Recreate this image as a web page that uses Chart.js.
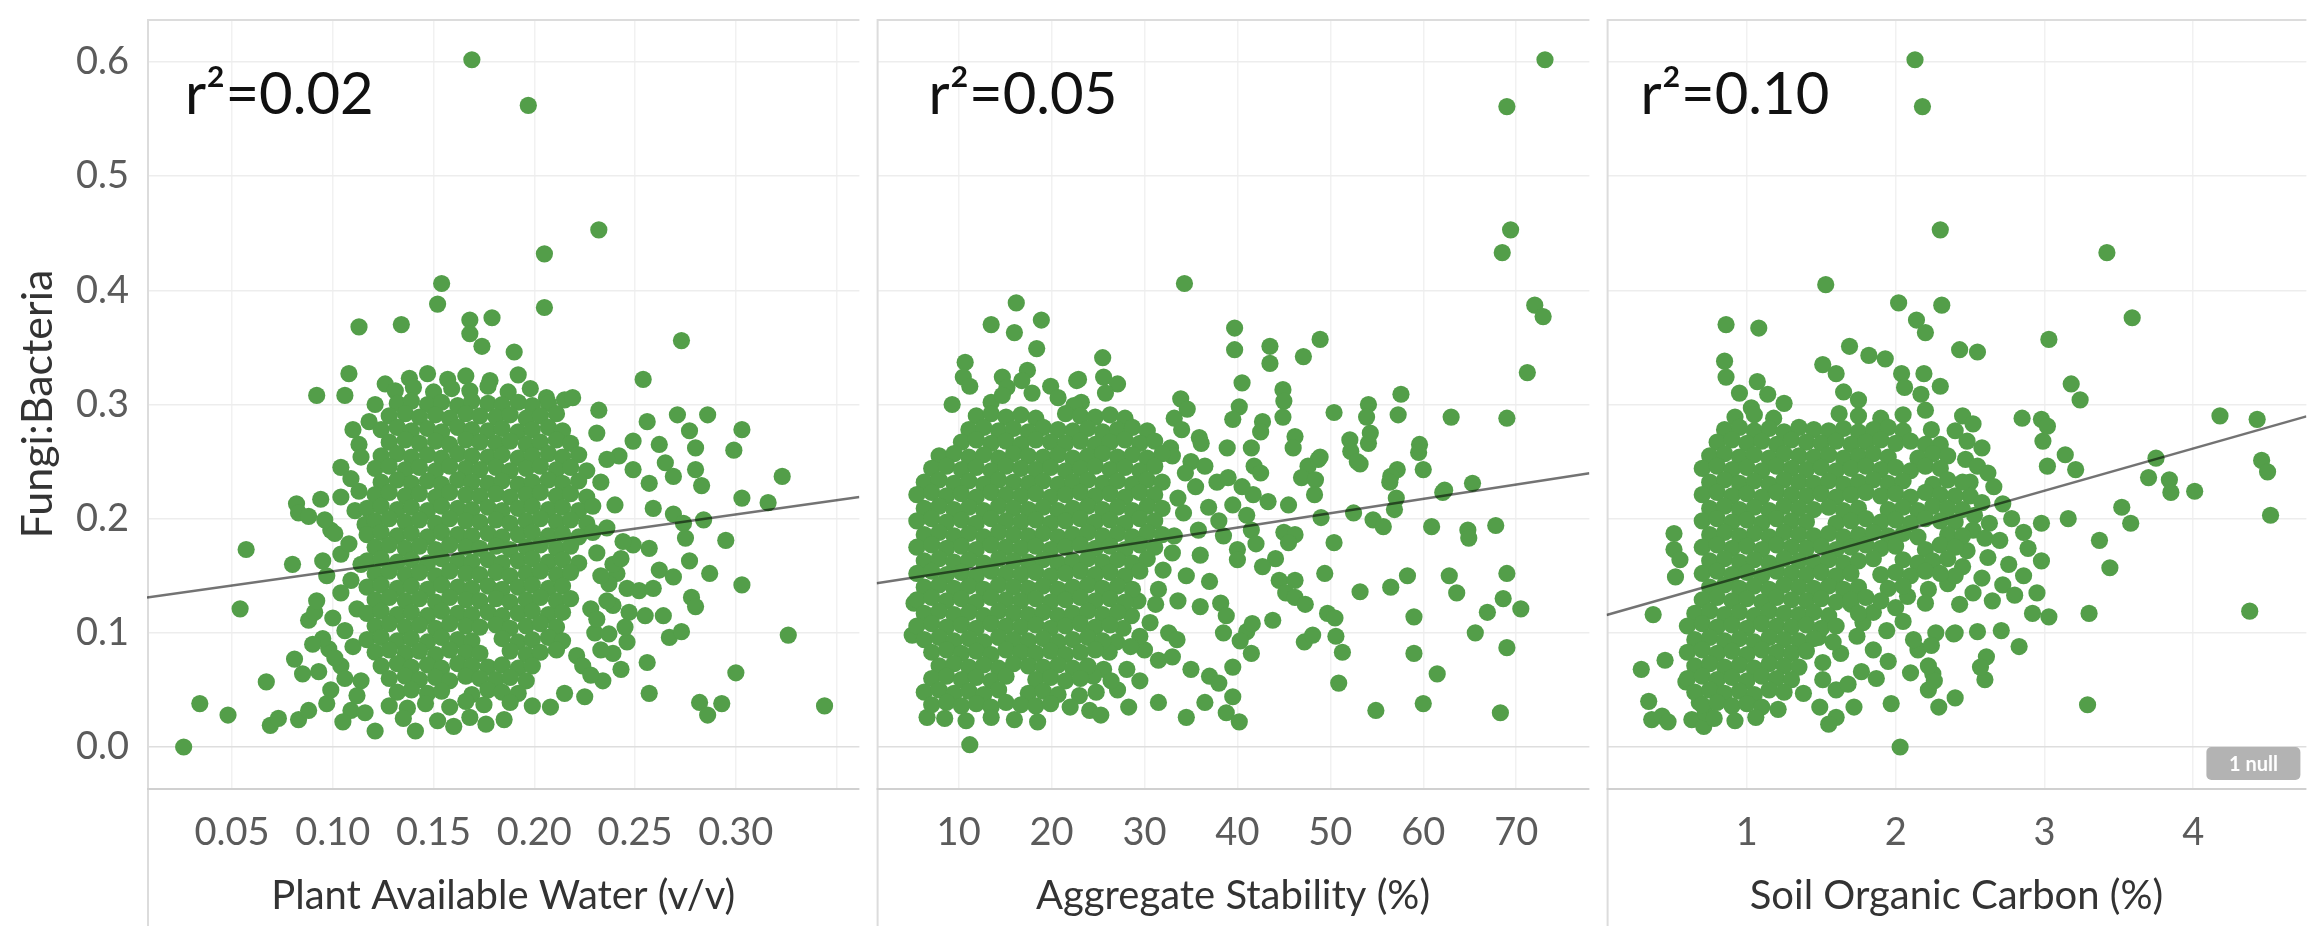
<!DOCTYPE html>
<html>
<head>
<meta charset="utf-8">
<title>Fungi:Bacteria vs soil properties</title>
<script src="https://cdn.jsdelivr.net/npm/chart.js@4.4.1/dist/chart.umd.min.js"></script>
<style>
  html, body { margin: 0; padding: 0; background: #fff; }
  #wrap { position: relative; width: 2315px; height: 926px; overflow: hidden; }
  canvas { position: absolute; top: 0; }
</style>
</head>
<body>
<div id="wrap">
  <canvas id="water" width="868" height="926" style="left:0"></canvas>
  <canvas id="stability" width="730" height="926" style="left:868px"></canvas>
  <canvas id="carbon" width="717" height="926" style="left:1598px"></canvas>
</div>
<script>
// ---- data: [x, Fungi:Bacteria] ----

const yTicks = [0, 0.1, 0.2, 0.3, 0.4, 0.5, 0.6];
const yLabels = ['0.0', '0.1', '0.2', '0.3', '0.4', '0.5', '0.6'];

const waterTicks = [0.05, 0.10, 0.15, 0.20, 0.25, 0.30, 0.35];
const waterLabels = ['0.05', '0.10', '0.15', '0.20', '0.25', '0.30', ''];
const stabilityTicks = [10, 20, 30, 40, 50, 60, 70];
const stabilityLabels = ['10', '20', '30', '40', '50', '60', '70'];
const carbonTicks = [1, 2, 3, 4];
const carbonLabels = ['1', '2', '3', '4'];

const axisTitles = ['Plant Available Water (v/v)', 'Aggregate Stability (%)', 'Soil Organic Carbon (%)'];
const rSquared = ['0.02', '0.05', '0.10'];

// trend line ends, at the edges of each pane
const waterTrend = [[0.0078, 0.131], [0.3613, 0.219]];
const stabilityTrend = [[1.17, 0.1434], [77.88, 0.2397]];
const carbonTrend = [[0.057, 0.1156], [4.761, 0.2896]];

const waterPoints = [
  // high values
  [0.169,0.602],[0.197,0.562],[0.232,0.453],[0.205,0.432],[0.154,0.406],[0.152,0.388],[0.205,0.385],[0.179,0.376],
  [0.168,0.374],[0.134,0.370],[0.113,0.368],[0.168,0.362],[0.174,0.351],[0.190,0.346],[0.273,0.356],[0.108,0.327],
  [0.254,0.322],[0.092,0.308],[0.106,0.308],
  // right side
  [0.206,0.306],[0.215,0.304],[0.219,0.306],[0.232,0.295],[0.256,0.285],[0.271,0.291],[0.286,0.291],[0.303,0.278],
  [0.299,0.260],[0.249,0.268],[0.242,0.255],[0.262,0.265],[0.265,0.249],[0.269,0.237],[0.277,0.277],[0.280,0.262],
  [0.280,0.243],[0.283,0.229],[0.323,0.237],[0.303,0.218],[0.316,0.214],[0.249,0.243],[0.257,0.231],[0.259,0.209],
  [0.269,0.204],[0.274,0.196],[0.284,0.199],[0.295,0.181],[0.275,0.183],[0.277,0.163],[0.287,0.152],[0.303,0.142],
  [0.262,0.155],[0.269,0.149],[0.278,0.131],[0.280,0.123],[0.249,0.177],[0.257,0.174],[0.241,0.152],[0.237,0.143],
  [0.246,0.139],[0.252,0.137],[0.259,0.139],[0.228,0.121],[0.239,0.124],[0.247,0.118],[0.255,0.115],[0.264,0.115],
  [0.230,0.100],[0.237,0.099],[0.246,0.092],[0.267,0.096],[0.273,0.101],[0.221,0.080],[0.224,0.071],[0.239,0.082],
  [0.256,0.074],[0.300,0.065],[0.326,0.098],[0.234,0.058],[0.225,0.044],[0.215,0.047],[0.208,0.035],[0.257,0.047],
  [0.282,0.039],[0.286,0.028],[0.293,0.038],[0.344,0.036],
  [0.233,0.232],[0.240,0.212],[0.236,0.192],[0.244,0.180],[0.231,0.170],[0.239,0.160],[0.233,0.150],[0.243,0.165],
  [0.236,0.128],[0.231,0.112],[0.245,0.105],[0.233,0.085],[0.228,0.063],[0.243,0.068],[0.236,0.252],[0.231,0.275],
  // left side
  [0.026,0.000],[0.034,0.038],[0.048,0.028],[0.054,0.121],[0.057,0.173],[0.067,0.057],[0.069,0.019],[0.073,0.025],
  [0.083,0.024],[0.088,0.032],[0.080,0.160],[0.082,0.213],[0.094,0.217],[0.109,0.032],[0.121,0.014],[0.141,0.014],
  [0.113,0.265],[0.114,0.254],[0.104,0.245],[0.099,0.190],[0.104,0.169],[0.109,0.146],[0.112,0.121],[0.106,0.102],
  [0.088,0.111],[0.083,0.205],[0.088,0.202],[0.096,0.199],[0.101,0.187],[0.104,0.219],[0.113,0.224],[0.091,0.118],
  [0.098,0.086],[0.081,0.077],[0.085,0.064],[0.104,0.071],[0.114,0.058],[0.095,0.095],[0.101,0.078],[0.093,0.066],
  [0.099,0.050],[0.106,0.060],[0.112,0.045],[0.104,0.135],[0.097,0.150],[0.092,0.128],[0.110,0.088],[0.100,0.113],
  [0.108,0.178],[0.095,0.163],[0.090,0.090],[0.097,0.038],[0.105,0.022],[0.116,0.030],[0.118,0.285],[0.110,0.278],
  [0.121,0.300],[0.126,0.318],[0.116,0.195],[0.111,0.207],[0.114,0.160],[0.109,0.235],
  // main cloud
  [0.138,0.323],[0.147,0.327],[0.157,0.322],[0.166,0.325],[0.178,0.321],[0.192,0.326],
  [0.131,0.312],[0.140,0.315],[0.150,0.311],[0.159,0.314],[0.168,0.312],[0.177,0.316],[0.187,0.311],[0.198,0.314],
  [0.132,0.301],[0.139,0.303],[0.147,0.300],[0.154,0.302],[0.162,0.299],[0.169,0.303],[0.177,0.301],[0.184,0.300],[0.192,0.302],[0.199,0.299],[0.207,0.301],
  [0.128,0.290],[0.136,0.292],[0.143,0.289],[0.151,0.291],[0.158,0.288],[0.166,0.292],[0.173,0.290],[0.181,0.289],[0.188,0.291],[0.196,0.288],[0.203,0.290],[0.211,0.292],
  [0.124,0.278],[0.132,0.280],[0.139,0.277],[0.147,0.279],[0.154,0.276],[0.162,0.280],[0.169,0.278],[0.177,0.277],[0.184,0.279],[0.192,0.276],[0.199,0.278],[0.207,0.280],[0.214,0.277],
  [0.128,0.267],[0.136,0.269],[0.143,0.266],[0.151,0.268],[0.158,0.265],[0.166,0.269],[0.173,0.267],[0.181,0.266],[0.188,0.268],[0.196,0.265],[0.203,0.267],[0.211,0.269],[0.218,0.266],
  [0.124,0.255],[0.132,0.257],[0.139,0.254],[0.147,0.256],[0.154,0.253],[0.162,0.257],[0.169,0.255],[0.177,0.254],[0.184,0.256],[0.192,0.253],[0.199,0.255],[0.207,0.257],[0.214,0.254],[0.222,0.256],
  [0.121,0.244],[0.128,0.246],[0.136,0.243],[0.143,0.245],[0.151,0.242],[0.158,0.246],[0.166,0.244],[0.173,0.243],[0.181,0.245],[0.188,0.242],[0.196,0.244],[0.203,0.246],[0.211,0.243],[0.218,0.245],[0.226,0.242],
  [0.124,0.232],[0.132,0.234],[0.139,0.231],[0.147,0.233],[0.154,0.230],[0.162,0.234],[0.169,0.232],[0.177,0.231],[0.184,0.233],[0.192,0.230],[0.199,0.232],[0.207,0.234],[0.214,0.231],[0.222,0.233],
  [0.121,0.221],[0.128,0.223],[0.136,0.220],[0.143,0.222],[0.151,0.219],[0.158,0.223],[0.166,0.221],[0.173,0.220],[0.181,0.222],[0.188,0.219],[0.196,0.221],[0.203,0.223],[0.211,0.220],[0.218,0.222],[0.226,0.219],
  [0.117,0.209],[0.124,0.211],[0.132,0.208],[0.139,0.210],[0.147,0.207],[0.154,0.211],[0.162,0.209],[0.169,0.208],[0.177,0.210],[0.184,0.207],[0.192,0.209],[0.199,0.211],[0.207,0.208],[0.214,0.210],[0.222,0.207],[0.229,0.211],
  [0.121,0.198],[0.128,0.200],[0.136,0.197],[0.143,0.199],[0.151,0.196],[0.158,0.200],[0.166,0.198],[0.173,0.197],[0.181,0.199],[0.188,0.196],[0.196,0.198],[0.203,0.200],[0.211,0.197],[0.218,0.199],[0.226,0.196],
  [0.117,0.186],[0.124,0.188],[0.132,0.185],[0.139,0.187],[0.147,0.184],[0.154,0.188],[0.162,0.186],[0.169,0.185],[0.177,0.187],[0.184,0.184],[0.192,0.186],[0.199,0.188],[0.207,0.185],[0.214,0.187],[0.222,0.184],[0.229,0.188],
  [0.121,0.175],[0.128,0.177],[0.136,0.174],[0.143,0.176],[0.151,0.173],[0.158,0.177],[0.166,0.175],[0.173,0.174],[0.181,0.176],[0.188,0.173],[0.196,0.175],[0.203,0.177],[0.211,0.174],[0.218,0.176],
  [0.117,0.163],[0.124,0.165],[0.132,0.162],[0.139,0.164],[0.147,0.161],[0.154,0.165],[0.162,0.163],[0.169,0.162],[0.177,0.164],[0.184,0.161],[0.192,0.163],[0.199,0.165],[0.207,0.162],[0.214,0.164],[0.222,0.161],
  [0.121,0.152],[0.128,0.154],[0.136,0.151],[0.143,0.153],[0.151,0.150],[0.158,0.154],[0.166,0.152],[0.173,0.151],[0.181,0.153],[0.188,0.150],[0.196,0.152],[0.203,0.154],[0.211,0.151],[0.218,0.153],
  [0.117,0.140],[0.124,0.142],[0.132,0.139],[0.139,0.141],[0.147,0.138],[0.154,0.142],[0.162,0.140],[0.169,0.139],[0.177,0.141],[0.184,0.138],[0.192,0.140],[0.199,0.142],[0.207,0.139],[0.214,0.141],
  [0.121,0.129],[0.128,0.131],[0.136,0.128],[0.143,0.130],[0.151,0.127],[0.158,0.131],[0.166,0.129],[0.173,0.128],[0.181,0.130],[0.188,0.127],[0.196,0.129],[0.203,0.131],[0.211,0.128],[0.218,0.130],
  [0.117,0.117],[0.124,0.119],[0.132,0.116],[0.139,0.118],[0.147,0.115],[0.154,0.119],[0.162,0.117],[0.169,0.116],[0.177,0.118],[0.184,0.115],[0.192,0.117],[0.199,0.119],[0.207,0.116],[0.214,0.118],
  [0.121,0.106],[0.128,0.108],[0.136,0.105],[0.143,0.107],[0.151,0.104],[0.158,0.108],[0.166,0.106],[0.173,0.105],[0.181,0.107],[0.188,0.104],[0.196,0.106],[0.203,0.108],[0.211,0.105],
  [0.117,0.094],[0.124,0.096],[0.132,0.093],[0.139,0.095],[0.147,0.092],[0.154,0.096],[0.162,0.094],[0.169,0.093],[0.184,0.095],[0.192,0.092],[0.199,0.094],[0.207,0.096],[0.214,0.093],
  [0.121,0.083],[0.128,0.085],[0.136,0.082],[0.143,0.084],[0.151,0.081],[0.158,0.085],[0.166,0.083],[0.173,0.082],[0.188,0.084],[0.196,0.081],[0.203,0.083],[0.211,0.085],
  [0.124,0.071],[0.132,0.073],[0.139,0.070],[0.147,0.072],[0.154,0.069],[0.162,0.073],[0.169,0.071],[0.177,0.070],[0.184,0.072],[0.192,0.069],[0.199,0.071],
  [0.128,0.060],[0.136,0.062],[0.143,0.059],[0.151,0.061],[0.158,0.058],[0.166,0.062],[0.173,0.060],[0.181,0.059],[0.188,0.061],[0.196,0.058],
  [0.132,0.048],[0.139,0.050],[0.147,0.047],[0.154,0.049],[0.169,0.046],[0.177,0.050],[0.184,0.048],[0.192,0.047],
  [0.128,0.036],[0.137,0.034],[0.146,0.038],[0.158,0.035],[0.166,0.040],[0.175,0.037],[0.188,0.039],[0.199,0.036],
  [0.135,0.025],[0.152,0.023],[0.160,0.018],[0.168,0.026],[0.176,0.020],[0.185,0.024]
];

const stabilityPoints = [
  // high values
  [73.1,0.602],[69.0,0.561],[69.4,0.453],[68.5,0.433],[34.3,0.406],[16.2,0.389],[72.0,0.387],[72.9,0.377],
  [18.9,0.374],[13.5,0.370],[39.7,0.367],[16.0,0.363],[18.4,0.349],[39.7,0.348],[43.5,0.351],[47.1,0.342],
  [48.9,0.357],[43.5,0.336],[25.5,0.341],[10.7,0.337],[10.5,0.324],[11.2,0.316],[17.4,0.330],[25.6,0.324],
  [22.9,0.322],[14.7,0.324],[16.8,0.321],[22.7,0.321],[27.1,0.318],[71.2,0.328],
  [9.3,0.300],[13.5,0.302],[15.2,0.315],[17.9,0.310],[19.9,0.316],[20.7,0.306],[23.2,0.302],[14.7,0.308],
  [22.4,0.299],[33.9,0.305],[40.5,0.319],[40.2,0.298],[44.9,0.313],[45.0,0.303],[57.6,0.309],[54.1,0.300],
  [25.8,0.310],[34.6,0.296],
  // spread to the right
  [33.2,0.288],[39.5,0.287],[42.7,0.285],[42.5,0.276],[44.9,0.289],[50.4,0.293],[53.9,0.289],[57.3,0.291],
  [63.0,0.289],[69.0,0.288],[35.9,0.271],[46.2,0.272],[36.1,0.266],[52.1,0.269],[54.1,0.266],[59.6,0.265],
  [46.0,0.262],[38.9,0.262],[41.5,0.262],[54.3,0.275],[52.2,0.259],[59.5,0.258],[34.0,0.278],[32.8,0.262],
  [41.8,0.246],[47.6,0.246],[48.7,0.252],[53.2,0.248],[60.0,0.243],[57.2,0.243],[46.9,0.236],[48.9,0.254],
  [52.9,0.250],[56.5,0.237],[62.3,0.225],[65.3,0.231],[56.4,0.232],[48.4,0.234],[41.7,0.221],[48.3,0.221],
  [45.5,0.212],[49.0,0.201],[57.1,0.218],[52.5,0.205],[54.6,0.199],[55.7,0.193],[56.9,0.208],[62.1,0.223],
  [41.5,0.190],[45.0,0.188],[46.2,0.186],[45.5,0.179],[50.4,0.179],[40.0,0.173],[40.0,0.164],[60.9,0.193],
  [64.8,0.190],[64.9,0.183],[67.8,0.194],[44.1,0.165],[42.7,0.158],
  [49.4,0.152],[53.2,0.136],[56.5,0.140],[58.3,0.150],[62.8,0.150],[63.6,0.135],[69.0,0.152],[44.5,0.146],
  [45.2,0.135],[46.2,0.131],[46.2,0.146],[38.2,0.126],[36.0,0.123],[38.8,0.115],
  [38.5,0.100],[41.0,0.101],[41.5,0.082],[40.3,0.093],[41.6,0.108],[43.8,0.111],[47.2,0.092],[48.1,0.098],
  [49.7,0.117],[50.5,0.113],[50.6,0.097],[51.3,0.083],[59.0,0.114],[59.0,0.082],[66.9,0.118],
  [65.6,0.100],[68.6,0.130],[69.0,0.087],[70.5,0.121],[47.3,0.125],
  [30.6,0.109],[32.6,0.100],[33.5,0.094],[30.0,0.085],[31.5,0.076],[33.0,0.079],[35.0,0.068],[37.0,0.062],
  [38.0,0.056],[39.5,0.070],[39.5,0.044],[38.8,0.030],[40.2,0.022],[34.5,0.026],[36.5,0.039],[31.5,0.039],
  [28.3,0.035],[27.1,0.050],[24.1,0.032],[25.3,0.028],[28.1,0.068],[25.6,0.068],[50.9,0.056],[54.9,0.032],
  [60.0,0.038],[61.5,0.064],[68.3,0.030],[11.2,0.002],[6.6,0.026],[5.2,0.126],[5.0,0.098],
  [33.0,0.255],[35.0,0.250],[34.4,0.240],[36.5,0.246],[33.6,0.218],[35.5,0.228],[37.8,0.232],[34.2,0.205],
  [36.9,0.210],[33.2,0.185],[35.8,0.190],[38.0,0.198],[33.0,0.170],[36.0,0.168],[32.0,0.155],[34.5,0.150],
  [37.0,0.145],[31.5,0.138],[33.6,0.128],[29.3,0.128],[31.2,0.125],[28.6,0.115],[27.7,0.104],[29.5,0.097],
  [27.0,0.092],[26.2,0.083],[28.5,0.088],[24.5,0.062],[26.4,0.058],[23.0,0.045],[22.0,0.035],[24.8,0.048],
  [29.5,0.058],[39.0,0.236],[40.5,0.228],[42.5,0.240],[39.5,0.212],[41.0,0.203],[43.3,0.215],[38.5,0.185],
  [42.0,0.178],
  // main cloud
  [11.9,0.290],[13.5,0.292],[15.1,0.289],[16.7,0.291],[18.3,0.288],[21.5,0.292],[23.1,0.290],[24.7,0.289],[26.3,0.291],[27.9,0.288],
  [11.1,0.278],[12.7,0.280],[14.3,0.277],[15.9,0.279],[17.5,0.276],[19.1,0.280],[20.7,0.278],[22.3,0.277],[23.9,0.279],[25.5,0.276],[27.1,0.278],[28.7,0.280],[30.3,0.277],
  [10.3,0.267],[11.9,0.269],[13.5,0.266],[15.1,0.268],[16.7,0.265],[18.3,0.269],[19.9,0.267],[21.5,0.266],[23.1,0.268],[24.7,0.265],[26.3,0.267],[27.9,0.269],[29.5,0.266],[31.1,0.268],
  [7.9,0.255],[9.5,0.257],[11.1,0.254],[12.7,0.256],[14.3,0.253],[15.9,0.257],[17.5,0.255],[19.1,0.254],[20.7,0.256],[22.3,0.253],[23.9,0.255],[25.5,0.257],[27.1,0.254],[28.7,0.256],[30.3,0.253],[31.9,0.257],
  [7.1,0.244],[8.7,0.246],[10.3,0.243],[11.9,0.245],[13.5,0.242],[15.1,0.246],[16.7,0.244],[18.3,0.243],[19.9,0.245],[21.5,0.242],[23.1,0.244],[24.7,0.246],[26.3,0.243],[27.9,0.245],[29.5,0.242],[31.1,0.246],
  [6.3,0.232],[7.9,0.234],[9.5,0.231],[11.1,0.233],[12.7,0.230],[14.3,0.234],[15.9,0.232],[17.5,0.231],[19.1,0.233],[20.7,0.230],[22.3,0.232],[23.9,0.234],[25.5,0.231],[27.1,0.233],[28.7,0.230],[30.3,0.234],[31.9,0.232],
  [5.5,0.221],[7.1,0.223],[8.7,0.220],[10.3,0.222],[11.9,0.219],[13.5,0.223],[15.1,0.221],[16.7,0.220],[18.3,0.222],[19.9,0.219],[21.5,0.221],[23.1,0.223],[24.7,0.220],[26.3,0.222],[27.9,0.219],[29.5,0.223],[31.1,0.221],
  [6.3,0.209],[7.9,0.211],[9.5,0.208],[11.1,0.210],[12.7,0.207],[14.3,0.211],[15.9,0.209],[17.5,0.208],[19.1,0.210],[20.7,0.207],[22.3,0.209],[23.9,0.211],[25.5,0.208],[27.1,0.210],[28.7,0.207],[30.3,0.211],[31.9,0.209],
  [5.5,0.198],[7.1,0.200],[8.7,0.197],[10.3,0.199],[11.9,0.196],[13.5,0.200],[15.1,0.198],[16.7,0.197],[18.3,0.199],[19.9,0.196],[21.5,0.198],[23.1,0.200],[24.7,0.197],[26.3,0.199],[27.9,0.196],[29.5,0.200],[31.1,0.198],
  [6.3,0.186],[7.9,0.188],[9.5,0.185],[11.1,0.187],[12.7,0.184],[14.3,0.188],[15.9,0.186],[17.5,0.185],[19.1,0.187],[20.7,0.184],[22.3,0.186],[23.9,0.188],[25.5,0.185],[27.1,0.187],[28.7,0.184],[30.3,0.188],[31.9,0.186],
  [5.5,0.175],[7.1,0.177],[8.7,0.174],[10.3,0.176],[11.9,0.173],[13.5,0.177],[15.1,0.175],[16.7,0.174],[18.3,0.176],[19.9,0.173],[21.5,0.175],[23.1,0.177],[24.7,0.174],[26.3,0.176],[27.9,0.173],[29.5,0.177],[31.1,0.175],
  [6.3,0.163],[7.9,0.165],[9.5,0.162],[11.1,0.164],[12.7,0.161],[14.3,0.165],[15.9,0.163],[17.5,0.162],[19.1,0.164],[20.7,0.161],[22.3,0.163],[23.9,0.165],[25.5,0.162],[27.1,0.164],[28.7,0.161],[30.3,0.165],
  [5.5,0.152],[7.1,0.154],[8.7,0.151],[10.3,0.153],[11.9,0.150],[13.5,0.154],[15.1,0.152],[16.7,0.151],[18.3,0.153],[19.9,0.150],[21.5,0.152],[23.1,0.154],[24.7,0.151],[26.3,0.153],[27.9,0.150],[29.5,0.154],
  [6.3,0.140],[7.9,0.142],[9.5,0.139],[11.1,0.141],[12.7,0.138],[14.3,0.142],[15.9,0.140],[17.5,0.139],[19.1,0.141],[20.7,0.138],[22.3,0.140],[23.9,0.142],[25.5,0.139],[27.1,0.141],[28.7,0.138],
  [5.5,0.129],[7.1,0.131],[8.7,0.128],[10.3,0.130],[11.9,0.127],[13.5,0.131],[15.1,0.129],[16.7,0.128],[18.3,0.130],[19.9,0.127],[21.5,0.129],[23.1,0.131],[24.7,0.128],[26.3,0.130],[27.9,0.127],
  [6.3,0.117],[7.9,0.119],[9.5,0.116],[11.1,0.118],[12.7,0.115],[14.3,0.119],[15.9,0.117],[17.5,0.116],[19.1,0.118],[20.7,0.115],[22.3,0.117],[23.9,0.119],[25.5,0.116],[27.1,0.118],
  [5.5,0.106],[7.1,0.108],[8.7,0.105],[10.3,0.107],[11.9,0.104],[13.5,0.108],[15.1,0.106],[16.7,0.105],[18.3,0.107],[19.9,0.104],[21.5,0.106],[23.1,0.108],[24.7,0.105],[26.3,0.107],
  [6.3,0.094],[7.9,0.096],[9.5,0.093],[11.1,0.095],[12.7,0.092],[14.3,0.096],[15.9,0.094],[17.5,0.093],[19.1,0.095],[20.7,0.092],[22.3,0.094],[23.9,0.096],[25.5,0.093],
  [7.1,0.083],[8.7,0.085],[10.3,0.082],[11.9,0.084],[13.5,0.081],[15.1,0.085],[16.7,0.083],[18.3,0.082],[19.9,0.084],[21.5,0.081],[23.1,0.083],[24.7,0.085],
  [7.9,0.071],[9.5,0.073],[11.1,0.070],[12.7,0.072],[14.3,0.069],[15.9,0.073],[17.5,0.071],[19.1,0.070],[20.7,0.072],[22.3,0.069],[23.9,0.071],
  [7.1,0.060],[8.7,0.062],[10.3,0.059],[11.9,0.061],[13.5,0.058],[15.1,0.062],[18.3,0.059],[19.9,0.061],[21.5,0.058],[23.1,0.060],
  [6.3,0.048],[7.9,0.050],[9.5,0.047],[11.1,0.049],[12.7,0.046],[14.3,0.050],[17.5,0.047],[19.1,0.049],[20.7,0.046],
  [7.1,0.037],[8.7,0.039],[10.3,0.036],[11.9,0.038],[13.5,0.035],[15.1,0.039],[16.7,0.037],[18.3,0.036],[19.9,0.038],
  [8.5,0.025],[10.8,0.023],[13.5,0.026],[16.0,0.024],[18.5,0.022]
];

const carbonPoints = [
  // high values
  [2.13,0.602],[2.18,0.561],[2.30,0.453],[3.42,0.433],[1.53,0.405],[2.02,0.389],[2.31,0.387],[3.59,0.376],
  [2.14,0.374],[0.86,0.370],[1.08,0.367],[2.20,0.363],[3.03,0.357],[1.69,0.351],[2.43,0.348],[2.55,0.346],
  [1.82,0.343],[1.93,0.340],[1.51,0.335],[0.85,0.338],[0.86,0.324],[0.95,0.310],[1.07,0.320],[1.14,0.309],
  [1.25,0.301],[1.03,0.297],[1.60,0.327],[1.65,0.311],[1.75,0.304],[2.04,0.327],[2.06,0.315],[2.17,0.309],
  [2.19,0.327],[2.30,0.316],[2.20,0.295],[2.24,0.278],[2.30,0.265],[3.18,0.318],[3.24,0.304],[4.18,0.290],
  [4.43,0.287],[2.85,0.288],[2.98,0.287],[3.02,0.281],[2.99,0.268],[3.02,0.246],[3.14,0.256],[3.21,0.243],
  // right side
  [3.75,0.253],[3.70,0.236],[3.84,0.234],[3.85,0.223],[4.01,0.224],[4.46,0.251],[4.50,0.241],[4.52,0.203],
  [3.52,0.210],[3.58,0.196],[3.37,0.181],[3.44,0.157],[3.30,0.117],[3.29,0.037],[4.38,0.119],[3.16,0.200],
  [2.98,0.196],[2.98,0.163],[2.89,0.174],[2.95,0.135],[3.03,0.114],[2.92,0.117],[2.83,0.088],[2.61,0.079],
  [2.60,0.059],[2.57,0.070],[2.71,0.102],[2.55,0.101],[2.40,0.100],[2.27,0.100],[2.40,0.043],[2.29,0.035],
  [2.22,0.050],[2.25,0.064],[2.15,0.085],[2.12,0.094],[1.97,0.038],[2.03,0.000],[1.77,0.066],[1.51,0.059],
  [1.60,0.050],[1.60,0.026],[1.49,0.035],[1.38,0.047],[1.85,0.085],[1.63,0.082],[1.51,0.074],[1.48,0.096],
  [1.78,0.109],[1.94,0.102],[2.26,0.058],[2.22,0.071],[2.24,0.089],[2.39,0.099],[1.21,0.033],
  [2.45,0.290],[2.52,0.283],[2.40,0.277],[2.48,0.268],[2.58,0.262],[2.47,0.252],[2.55,0.246],[2.62,0.240],
  [2.50,0.232],[2.66,0.228],[2.50,0.220],[2.58,0.214],[2.72,0.213],[2.53,0.203],[2.63,0.196],[2.78,0.200],
  [2.52,0.190],[2.60,0.183],[2.70,0.181],[2.86,0.188],[2.48,0.172],[2.62,0.166],[2.76,0.160],[2.45,0.158],
  [2.58,0.148],[2.72,0.142],[2.86,0.150],[2.52,0.135],[2.65,0.128],[2.43,0.125],[2.80,0.133],[2.35,0.143],
  [2.22,0.138],[2.40,0.150],
  [1.70,0.125],[1.85,0.118],[2.00,0.122],[2.08,0.132],[2.20,0.126],[1.74,0.097],[2.05,0.110],[1.68,0.055],
  [1.87,0.060],[1.95,0.075],[1.55,0.020],[1.72,0.035],[2.10,0.065],[1.58,0.092],
  // left side
  [0.37,0.116],[0.51,0.187],[0.51,0.173],[0.52,0.149],[0.55,0.164],[0.29,0.068],[0.45,0.076],[0.59,0.057],
  [0.34,0.040],[0.36,0.024],[0.43,0.027],[0.47,0.022],[0.63,0.024],[0.71,0.018],[0.72,0.030],[0.68,0.039],
  // no soil carbon value
  [null,0.158],
  // main cloud
  [0.92,0.289],[1.05,0.291],[1.18,0.288],[1.62,0.292],[1.75,0.290],[1.90,0.288],[2.05,0.291],
  [0.85,0.278],[0.95,0.280],[1.05,0.277],[1.15,0.279],[1.25,0.276],[1.35,0.280],[1.45,0.278],[1.55,0.277],[1.65,0.279],[1.75,0.276],[1.85,0.278],[1.95,0.280],[2.05,0.277],
  [0.80,0.267],[0.90,0.269],[1.00,0.266],[1.10,0.268],[1.20,0.265],[1.30,0.269],[1.40,0.267],[1.50,0.266],[1.60,0.268],[1.70,0.265],[1.80,0.267],[1.90,0.269],[2.00,0.266],[2.10,0.268],[2.20,0.265],
  [0.75,0.255],[0.85,0.257],[0.95,0.254],[1.05,0.256],[1.15,0.253],[1.25,0.257],[1.35,0.255],[1.45,0.254],[1.55,0.256],[1.65,0.253],[1.75,0.255],[1.85,0.257],[1.95,0.254],[2.15,0.253],[2.25,0.257],[2.35,0.255],
  [0.70,0.244],[0.80,0.246],[0.90,0.243],[1.00,0.245],[1.10,0.242],[1.20,0.246],[1.30,0.244],[1.40,0.243],[1.50,0.245],[1.60,0.242],[1.70,0.244],[1.80,0.246],[1.90,0.243],[2.00,0.245],[2.10,0.242],[2.20,0.246],[2.30,0.244],
  [0.75,0.232],[0.85,0.234],[0.95,0.231],[1.05,0.233],[1.15,0.230],[1.25,0.234],[1.35,0.232],[1.45,0.231],[1.55,0.233],[1.65,0.230],[1.75,0.232],[1.85,0.234],[1.95,0.231],[2.05,0.233],[2.25,0.230],[2.35,0.234],[2.45,0.232],
  [0.70,0.221],[0.80,0.223],[0.90,0.220],[1.00,0.222],[1.10,0.219],[1.20,0.223],[1.30,0.221],[1.40,0.220],[1.50,0.222],[1.60,0.219],[1.70,0.221],[1.80,0.223],[1.90,0.220],[2.00,0.222],[2.10,0.219],[2.20,0.223],[2.30,0.221],[2.40,0.220],
  [0.75,0.209],[0.85,0.211],[0.95,0.208],[1.05,0.210],[1.15,0.207],[1.25,0.211],[1.35,0.209],[1.45,0.208],[1.55,0.210],[1.65,0.207],[1.75,0.209],[1.95,0.208],[2.05,0.210],[2.15,0.207],[2.25,0.211],[2.35,0.209],[2.45,0.208],
  [0.70,0.198],[0.80,0.200],[0.90,0.197],[1.00,0.199],[1.10,0.196],[1.20,0.200],[1.30,0.198],[1.40,0.197],[1.60,0.196],[1.70,0.198],[1.80,0.200],[1.90,0.197],[2.00,0.199],[2.10,0.196],[2.20,0.200],[2.30,0.198],[2.40,0.197],
  [0.75,0.186],[0.85,0.188],[0.95,0.185],[1.05,0.187],[1.15,0.184],[1.25,0.188],[1.35,0.186],[1.45,0.185],[1.55,0.187],[1.65,0.184],[1.75,0.186],[1.85,0.188],[1.95,0.185],[2.05,0.187],[2.15,0.184],[2.35,0.186],[2.45,0.185],
  [0.70,0.175],[0.80,0.177],[0.90,0.174],[1.00,0.176],[1.10,0.173],[1.20,0.177],[1.30,0.175],[1.40,0.174],[1.50,0.176],[1.60,0.173],[1.70,0.175],[1.80,0.177],[1.90,0.174],[2.00,0.176],[2.20,0.173],[2.30,0.177],[2.40,0.175],
  [0.75,0.163],[0.85,0.165],[0.95,0.162],[1.05,0.164],[1.15,0.161],[1.25,0.165],[1.35,0.163],[1.45,0.162],[1.55,0.164],[1.65,0.161],[1.75,0.163],[1.85,0.165],[2.05,0.164],[2.15,0.161],[2.25,0.163],[2.35,0.165],
  [0.70,0.152],[0.80,0.154],[0.90,0.151],[1.00,0.153],[1.10,0.150],[1.20,0.154],[1.30,0.152],[1.40,0.151],[1.50,0.153],[1.60,0.150],[1.70,0.152],[1.90,0.151],[2.00,0.153],[2.10,0.150],[2.20,0.154],[2.30,0.152],
  [0.75,0.140],[0.85,0.142],[0.95,0.139],[1.05,0.141],[1.15,0.138],[1.25,0.142],[1.35,0.140],[1.45,0.139],[1.55,0.141],[1.65,0.138],[1.75,0.140],[1.95,0.139],[2.05,0.141],
  [0.70,0.129],[0.80,0.131],[0.90,0.128],[1.00,0.130],[1.10,0.127],[1.20,0.131],[1.30,0.129],[1.40,0.128],[1.50,0.130],[1.60,0.127],[1.70,0.129],[1.80,0.131],[1.90,0.128],
  [0.65,0.117],[0.75,0.119],[0.85,0.116],[0.95,0.118],[1.05,0.115],[1.15,0.119],[1.25,0.117],[1.35,0.116],[1.45,0.118],[1.55,0.115],[1.75,0.117],
  [0.60,0.106],[0.70,0.108],[0.80,0.105],[0.90,0.107],[1.00,0.104],[1.10,0.108],[1.20,0.106],[1.30,0.105],[1.40,0.107],[1.50,0.104],[1.60,0.106],
  [0.65,0.094],[0.75,0.096],[0.85,0.093],[0.95,0.095],[1.05,0.092],[1.15,0.096],[1.25,0.094],[1.35,0.093],[1.45,0.095],
  [0.60,0.083],[0.70,0.085],[0.80,0.082],[0.90,0.084],[1.00,0.081],[1.10,0.085],[1.20,0.083],[1.30,0.082],[1.40,0.084],
  [0.65,0.071],[0.75,0.073],[0.85,0.070],[0.95,0.072],[1.05,0.069],[1.15,0.073],[1.25,0.071],[1.35,0.070],
  [0.60,0.060],[0.70,0.062],[0.80,0.059],[0.90,0.061],[1.00,0.058],[1.10,0.062],[1.20,0.060],[1.30,0.059],
  [0.65,0.048],[0.75,0.050],[0.85,0.047],[0.95,0.049],[1.05,0.046],[1.15,0.050],[1.25,0.048],
  [0.70,0.037],[0.80,0.039],[0.90,0.036],[1.00,0.038],[1.10,0.035],
  [0.78,0.025],[0.92,0.023],[1.06,0.026]
];

// ---- drawing ----

const GREEN = '#539e49';
const FONT = 'Lato';
Chart.defaults.font.family = FONT;

const framePlugin = {
  id: 'frame',
  beforeDatasetsDraw(chart) {
    const { ctx, chartArea: a, height } = chart;
    ctx.save();
    ctx.lineWidth = 2;
    ctx.strokeStyle = '#dcdcdc';
    ctx.beginPath();
    ctx.moveTo(a.left + 1, a.top);
    ctx.lineTo(a.left + 1, height);
    ctx.moveTo(a.left, a.top + 1);
    ctx.lineTo(a.right, a.top + 1);
    ctx.stroke();
    ctx.strokeStyle = '#d0d0d0';
    ctx.beginPath();
    ctx.moveTo(a.left, a.bottom);
    ctx.lineTo(a.right, a.bottom);
    ctx.stroke();
    ctx.restore();
  }
};

const notePlugin = {
  id: 'note',
  afterDraw(chart, args, opts) {
    const { ctx, chartArea: a } = chart;
    ctx.save();
    ctx.fillStyle = '#111';
    ctx.font = '58px ' + FONT;
    ctx.textAlign = 'left';
    ctx.textBaseline = 'alphabetic';
    ctx.fillText('r\u00b2=' + opts.r2, a.left + opts.dx, a.top + 95);
    if (opts.nulls > 0) {
      const y0 = chart.scales.y.getPixelForValue(0);
      const w = 94, h = 33, x = a.right - 100, r = 5;
      ctx.fillStyle = '#b3b3b3';
      ctx.beginPath();
      ctx.moveTo(x + r, y0);
      ctx.arcTo(x + w, y0, x + w, y0 + h, r);
      ctx.arcTo(x + w, y0 + h, x, y0 + h, r);
      ctx.arcTo(x, y0 + h, x, y0, r);
      ctx.arcTo(x, y0, x + w, y0, r);
      ctx.closePath();
      ctx.fill();
      ctx.fillStyle = '#fff';
      ctx.font = 'bold 20px ' + FONT;
      ctx.textAlign = 'center';
      ctx.textBaseline = 'middle';
      ctx.fillText(opts.nulls + ' null', x + w / 2, y0 + h / 2 + 1);
    }
    ctx.restore();
  }
};

function makePanel(id, points, trend, xMin, xMax, xTicks, xLabels, xTitle, r2, dx, first) {
  const nulls = points.filter(p => p[0] === null).length;
  return new Chart(document.getElementById(id), {
    type: 'scatter',
    data: {
      datasets: [
        {
          type: 'line',
          data: trend.map(p => ({ x: p[0], y: p[1] })),
          borderColor: 'rgba(0,0,0,0.55)',
          borderWidth: 2.5,
          pointRadius: 0,
          fill: false,
          order: 0
        },
        {
          data: points.filter(p => p[0] !== null).map(p => ({ x: p[0], y: p[1] })),
          backgroundColor: GREEN,
          borderWidth: 0,
          pointRadius: 8.6,
          pointHoverRadius: 8.6,
          order: 1
        }
      ]
    },
    options: {
      responsive: false,
      animation: false,
      devicePixelRatio: 1,
      events: [],
      layout: { padding: { top: 19, left: 0, right: 0, bottom: 0 } },
      plugins: {
        legend: { display: false },
        tooltip: { enabled: false },
        note: { r2: r2, dx: dx, nulls: nulls }
      },
      scales: {
        x: {
          type: 'linear',
          min: xMin,
          max: xMax,
          afterBuildTicks: s => { s.ticks = xTicks.map(v => ({ value: v })); },
          afterFit: s => { s.height = 137; s.paddingLeft = 0; s.paddingRight = 0; },
          ticks: {
            autoSkip: false,
            maxRotation: 0,
            padding: 21,
            color: '#5b5b5b',
            font: { size: 38 },
            callback: (v, i) => xLabels[i]
          },
          grid: { color: '#f1f1f1', lineWidth: 1.5, drawTicks: false },
          border: { display: false },
          title: {
            display: true,
            text: xTitle,
            color: '#333',
            font: { size: 40 },
            padding: { top: 0, bottom: 6 }
          }
        },
        y: {
          type: 'linear',
          min: -0.0368,
          max: 0.6377,
          afterBuildTicks: s => { s.ticks = yTicks.map(v => ({ value: v })); },
          afterFit: s => { s.width = first ? 147 : 0; s.paddingTop = 0; s.paddingBottom = 0; },
          ticks: {
            display: first,
            padding: 18,
            color: '#5b5b5b',
            font: { size: 38 },
            callback: (v, i) => yLabels[i]
          },
          grid: {
            color: c => (c.tick && c.tick.value === 0 ? '#dedede' : '#ededed'),
            lineWidth: 1.5,
            drawTicks: false
          },
          border: { display: false },
          title: {
            display: first,
            text: 'Fungi:Bacteria',
            color: '#333',
            font: { size: 43 },
            padding: { top: 12, bottom: 0 }
          }
        }
      }
    },
    plugins: [framePlugin, notePlugin]
  });
}

makePanel('water', waterPoints, waterTrend, 0.0078, 0.3613, waterTicks, waterLabels, axisTitles[0], rSquared[0], 38, true);
makePanel('stability', stabilityPoints, stabilityTrend, 1.17, 77.88, stabilityTicks, stabilityLabels, axisTitles[1], rSquared[1], 52, false);
makePanel('carbon', carbonPoints, carbonTrend, 0.057, 4.761, carbonTicks, carbonLabels, axisTitles[2], rSquared[2], 34, false);
</script>
</body>
</html>
